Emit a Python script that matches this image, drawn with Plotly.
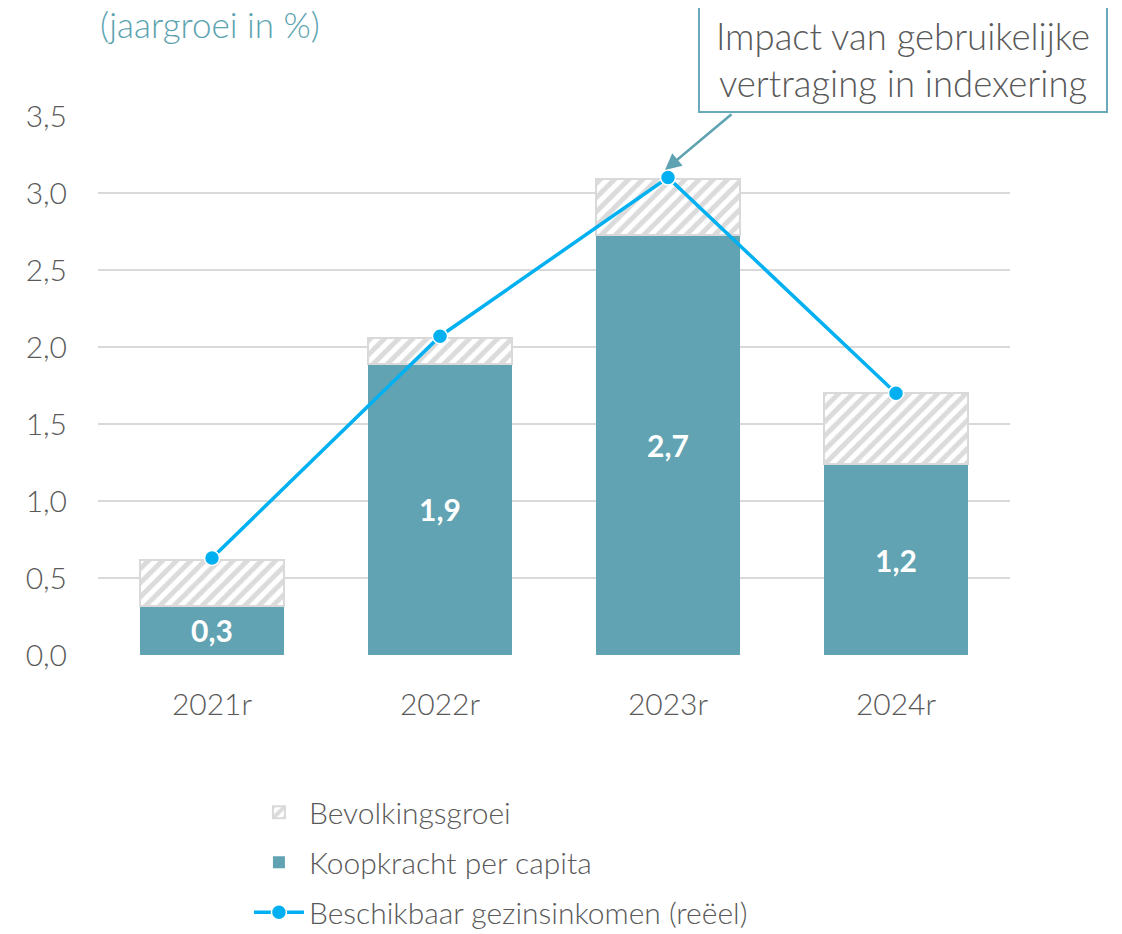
import plotly.graph_objects as go

categories = ["2021r", "2022r", "2023r", "2024r"]
koopkracht = [0.32, 1.89, 2.73, 1.24]
bevolking = [0.30, 0.17, 0.36, 0.46]
gezinsinkomen = [0.63, 2.07, 3.10, 1.70]
y_ticks = [0, 0.5, 1.0, 1.5, 2.0, 2.5, 3.0, 3.5]

TEAL = "#61A3B2"
LINE = "#00B0F0"
GRAY = "#595959"
FONT = "Lato"

fig = go.Figure()
fig.add_trace(go.Bar(
    x=categories, y=koopkracht, name="Koopkracht per capita",
    marker=dict(color=TEAL, line=dict(width=0)),
    texttemplate="%{y:.1f}", textposition="inside",
    insidetextanchor="middle",
    textfont=dict(color="white", size=30, family=FONT, weight=700),
    legendrank=2, legendgroup="b",
))
fig.add_trace(go.Bar(
    x=categories, y=bevolking, name="Bevolkingsgroei",
    marker=dict(color="white", line=dict(color="#d9d9d9", width=2),
                pattern=dict(shape="/", fgcolor="#b8b8b8", bgcolor="white",
                             size=10, solidity=0.5)),
    legendrank=1, legendgroup="a",
))
fig.add_trace(go.Scatter(
    x=categories, y=gezinsinkomen, name="Beschikbaar gezinsinkomen (reëel)",
    mode="lines+markers",
    line=dict(color=LINE, width=3.5),
    marker=dict(color=LINE, size=15, line=dict(color="white", width=1.5)),
    legendrank=3, legendgroup="c",
))

fig.update_layout(
    width=1122, height=934,
    barmode="stack", bargap=0.37,
    separators=", ",
    plot_bgcolor="white", paper_bgcolor="white",
    margin=dict(l=90, r=120, t=108, b=287, autoexpand=False),
    font=dict(family=FONT, color=GRAY, size=30, weight=300),
    showlegend=True,
    legend=dict(x=0.1655, y=0.004, yref="container", xanchor="left",
                yanchor="bottom",
                orientation="v", traceorder="grouped", itemwidth=50,
                font=dict(size=30, color=GRAY, family=FONT, weight=300),
                tracegroupgap=8, bgcolor="rgba(0,0,0,0)"),
    xaxis=dict(showgrid=False, showline=False, ticks="", automargin=False,
               tickfont=dict(size=30, color=GRAY, family=FONT, weight=300),
               ticklabelstandoff=29),
    yaxis=dict(range=[0, 3.5], tickvals=y_ticks, tickformat=".1f",
               automargin=False,
               showgrid=True, gridcolor="#d9d9d9", gridwidth=2,
               zeroline=False, showline=False, ticks="",
               tickfont=dict(size=30, color=GRAY, family=FONT, weight=300),
               ticklabelstandoff=30),
)

fig.add_annotation(
    text="(jaargroei in %)", xref="paper", yref="paper",
    x=0, y=1.171, xanchor="left", yanchor="middle", showarrow=False,
    font=dict(size=35, color="#5BA3B0", family=FONT, weight=300),
)
fig.add_annotation(
    text="Impact van gebruikelijke<br>vertraging in indexering",
    xref="paper", yref="paper", x=0.883, y=1.1042,
    xanchor="center", yanchor="middle", showarrow=False, width=394,
    align="center",
    bordercolor="#6AAAB8", borderwidth=2, borderpad=6, bgcolor="white",
    font=dict(size=36.5, color=GRAY, family=FONT, weight=300),
)
fig.add_annotation(
    text="", xref="paper", yref="paper", x=0.6217, y=0.8998,
    showarrow=True, axref="pixel", ayref="pixel", ax=68, ay=-57,
    arrowhead=2, arrowsize=1.3, arrowwidth=2.5, arrowcolor="#5FA3B3",
)

fig.write_html("out.html")
